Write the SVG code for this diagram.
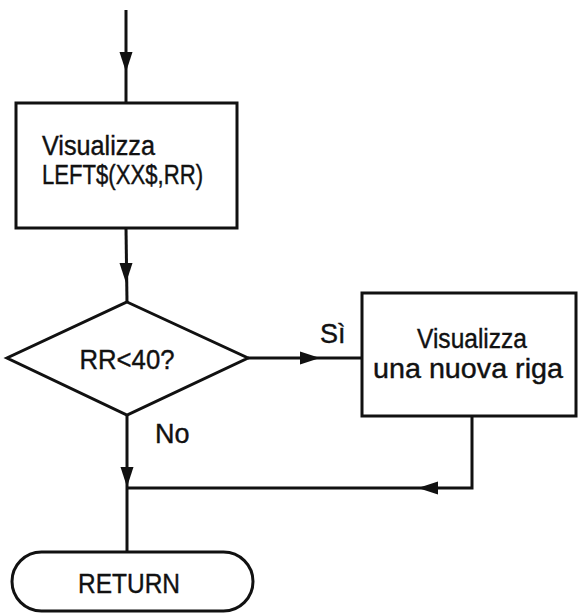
<svg xmlns="http://www.w3.org/2000/svg" xmlns:xlink="http://www.w3.org/1999/xlink" width="578" height="613" viewBox="0 0 578 613">
<style>
.shape{fill:#fff;stroke:#111;stroke-width:3;stroke-linejoin:miter}
.line{fill:none;stroke:#111;stroke-width:3}
.ah{fill:#111;stroke:none}
text{font-family:"Liberation Sans","DejaVu Sans",sans-serif;font-size:27px;fill:#111;stroke:#111;stroke-width:0.4}
.c{text-anchor:middle}
</style>
<defs>
<path id="ah" d="M0,0 L-6.5,-20 L6.5,-20 Z"/>
</defs>
<g id="connectors">
<line class="line" x1="126" y1="10" x2="126" y2="103"/>
<line class="line" x1="126" y1="228" x2="127" y2="302"/>
<line class="line" x1="248" y1="358" x2="362" y2="358"/>
<line class="line" x1="127" y1="415" x2="127" y2="552"/>
<polyline class="line" points="472,416 472,488 127,488"/>
<use class="ah" href="#ah" xlink:href="#ah" transform="translate(126,72)"/>
<use class="ah" href="#ah" xlink:href="#ah" transform="translate(126,283)"/>
<use class="ah" href="#ah" xlink:href="#ah" transform="translate(320,358) rotate(-90)"/>
<use class="ah" href="#ah" xlink:href="#ah" transform="translate(127,487)"/>
<use class="ah" href="#ah" xlink:href="#ah" transform="translate(418,488) rotate(90)"/>
<text x="320" y="343">Sì</text>
<text x="155" y="443">No</text>
</g>
<g id="box1">
<rect class="shape" x="16" y="103" width="221" height="125"/>
<text x="42" y="155" textLength="113" lengthAdjust="spacingAndGlyphs">Visualizza</text>
<text x="42" y="184" textLength="161" lengthAdjust="spacingAndGlyphs">LEFT$(XX$,RR)</text>
</g>
<g id="decision">
<polygon class="shape" points="127,302 248,358 127,415 7,358"/>
<text class="c" x="127" y="369" textLength="95" lengthAdjust="spacingAndGlyphs">RR&lt;40?</text>
</g>
<g id="box2">
<rect class="shape" x="362" y="293" width="214" height="123"/>
<text class="c" x="472" y="348" textLength="110" lengthAdjust="spacingAndGlyphs">Visualizza</text>
<text class="c" x="468" y="378" textLength="190" lengthAdjust="spacingAndGlyphs">una nuova riga</text>
</g>
<g id="return">
<rect class="shape" x="12" y="552" width="241" height="59" rx="29.5" ry="29.5"/>
<text class="c" x="129" y="593" textLength="102" lengthAdjust="spacingAndGlyphs">RETURN</text>
</g>
</svg>
